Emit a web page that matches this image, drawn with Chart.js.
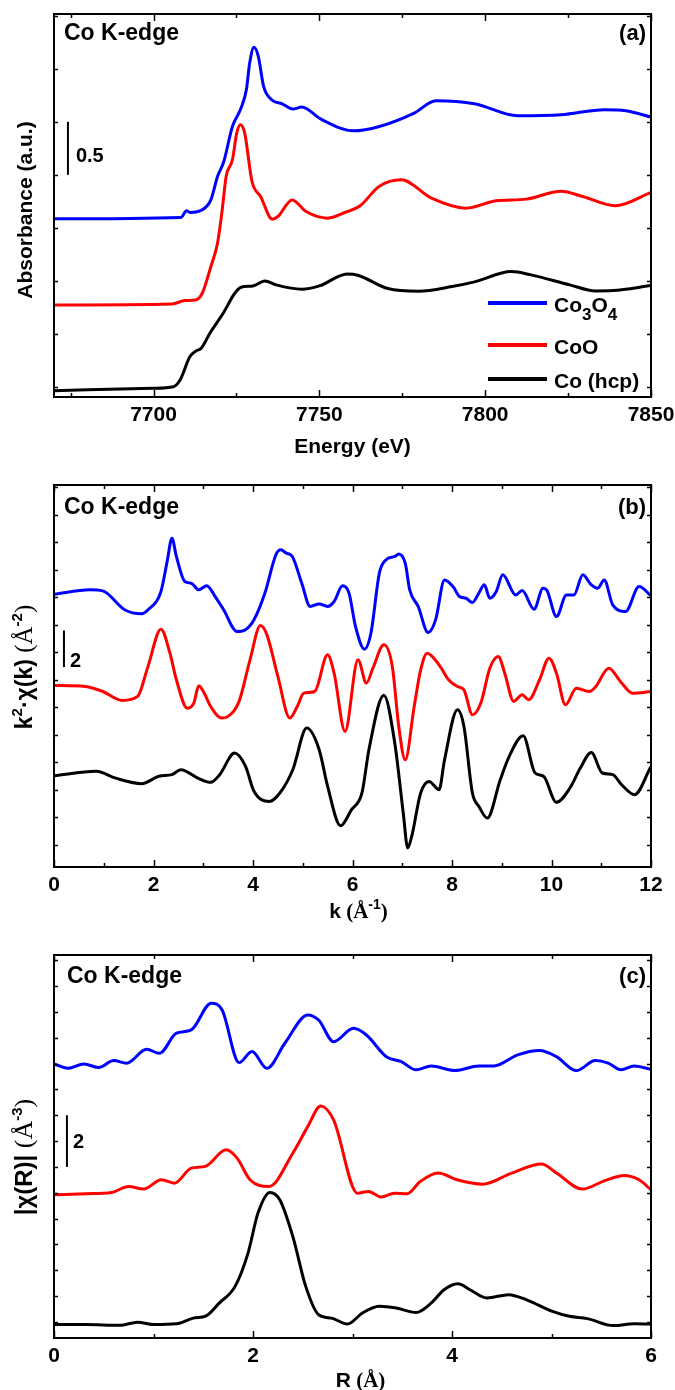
<!DOCTYPE html>
<html><head><meta charset="utf-8">
<script src="https://cdn.jsdelivr.net/npm/chart.js@4.4.1/dist/chart.umd.min.js"></script>
<style>
html,body{margin:0;padding:0;background:#fff;width:675px;height:1390px;overflow:hidden}
canvas{position:absolute;left:0}
</style></head><body>
<canvas id="ca" width="675" height="470" style="top:0px"></canvas>
<canvas id="cb" width="675" height="460" style="top:470px"></canvas>
<canvas id="cc" width="675" height="460" style="top:930px"></canvas>
<script>
// ---------- Panel (a): XANES, Energy (eV) vs Absorbance (offset) ----------
const energyBlue = [7670,7708.2,7710,7711,7714.7,7717.3,7719.3,7721.2,7723.8,7726.4,7728,7729,7730.3,7731.6,7733.2,7735.6,7738.8,7742,7744.7,7750.5,7760.3,7768.1,7778.6,7785.1,7796.8,7809.8,7822.9,7835.9,7842.4,7850];
const absBlue = [1.679,1.692,1.755,1.739,1.764,1.858,2.079,2.220,2.550,2.723,2.896,3.148,3.296,3.211,2.928,2.802,2.764,2.714,2.733,2.619,2.509,2.550,2.676,2.792,2.764,2.651,2.660,2.708,2.698,2.638];
const energyRed = [7670,7705.6,7709.5,7712.7,7714.7,7717.3,7719.3,7720.6,7721.9,7723.8,7725.1,7726.2,7727.5,7729.7,7732.3,7735.8,7737.5,7741.8,7746,7752.5,7757.7,7762.3,7768,7774.7,7783.8,7794.2,7803.3,7812.4,7822.9,7829.4,7839.2,7850];
const absRed = [0.868,0.877,0.909,0.915,0.978,1.230,1.450,1.733,2.079,2.236,2.487,2.566,2.487,2.031,1.890,1.676,1.701,1.858,1.748,1.686,1.739,1.802,1.984,2.047,1.874,1.780,1.849,1.865,1.940,1.890,1.802,1.928];
const energyBlack = [7670,7700,7706,7708,7711,7713,7714.4,7717,7721,7724.5,7726.4,7730,7733.6,7737,7744.7,7750,7758.4,7761.6,7770.7,7779.9,7790,7796.8,7807.9,7813.8,7825.5,7833.3,7838.5,7850];
const absBlack = [0.060,0.082,0.097,0.160,0.381,0.437,0.459,0.601,0.789,0.978,1.035,1.047,1.094,1.057,1.016,1.047,1.160,1.148,1.022,0.997,1.041,1.085,1.182,1.151,1.057,1.000,1.003,1.050];
const energyTicksMajor = [7700,7750,7800,7850];
const energyTicksMinor = [7675,7725,7775,7825];

// ---------- Panel (b): k^2 chi(k) ----------
const kBlue = [0,0.72,0.98,1.42,1.76,1.89,2.15,2.28,2.37,2.46,2.63,2.76,2.91,3.07,3.24,3.41,3.68,3.85,4.02,4.24,4.46,4.56,4.67,4.79,4.98,5.15,5.33,5.50,5.63,5.80,5.93,6.06,6.24,6.37,6.54,6.67,6.85,6.93,7.06,7.15,7.32,7.52,7.67,7.85,8.02,8.15,8.28,8.41,8.54,8.65,8.76,8.89,9.02,9.28,9.41,9.65,9.83,9.91,10.10,10.30,10.45,10.63,10.80,10.93,11.06,11.23,11.49,11.76,12];
const chiBlue = [14.89,15.13,15.07,14.04,13.82,14.04,15.04,16.76,17.95,16.95,15.58,15.49,15.13,15.35,14.76,14.04,12.85,12.95,13.49,14.95,17.04,17.31,17.13,16.95,15.49,14.22,14.36,14.22,14.49,15.35,14.95,13.13,11.89,12.76,16.04,16.76,16.95,17.09,16.58,15.13,14.22,12.80,13.49,15.67,15.31,14.76,14.67,14.44,14.95,15.40,14.67,15.04,15.95,14.85,15.09,14.07,15.22,15.09,13.67,14.85,14.85,15.95,15.40,15.22,15.67,14.31,13.95,15.31,14.80];
const kRed = [0,0.63,0.98,1.37,1.68,1.89,2.15,2.33,2.46,2.68,2.81,2.91,3.02,3.15,3.37,3.50,3.72,3.94,4.15,4.28,4.50,4.74,4.89,5.02,5.24,5.50,5.63,5.85,6.11,6.28,6.41,6.63,6.80,6.93,7.06,7.24,7.37,7.50,7.76,7.93,8.11,8.24,8.41,8.58,8.76,8.93,9.06,9.24,9.41,9.54,9.76,9.95,10.10,10.28,10.50,10.76,10.89,11.15,11.41,11.63,12];
const chiRed = [9.91,9.85,9.58,9.09,9.31,10.95,12.98,11.67,10.22,8.67,8.95,9.89,9.49,8.76,8.13,8.22,9.04,11.31,13.18,12.67,10.40,8.13,8.76,9.49,9.58,11.58,10.58,7.40,11.31,10.04,10.85,12.13,10.95,7.67,5.85,8.76,10.76,11.67,10.95,10.22,9.85,9.67,8.31,8.95,10.85,11.49,10.58,9.04,9.40,9.13,10.22,11.40,10.58,8.85,9.76,9.58,9.85,10.85,10.04,9.49,9.58];
const kBlack = [0,0.85,1.24,1.76,2.11,2.37,2.55,2.89,3.15,3.33,3.63,3.85,4.02,4.33,4.54,4.80,5.08,5.33,5.50,5.76,5.98,6.19,6.33,6.63,6.85,7.02,7.11,7.19,7.37,7.54,7.74,7.85,8.11,8.24,8.41,8.54,8.71,8.97,9.15,9.43,9.67,9.84,10.10,10.37,10.58,10.80,11.02,11.23,11.41,11.67,12];
const chiBlack = [4.98,5.22,4.85,4.55,4.95,5.04,5.31,4.85,4.62,5.04,6.22,5.49,4.13,3.58,4.04,5.31,7.58,6.40,4.40,2.25,3.13,4.04,6.40,9.38,6.76,2.95,1.04,1.67,4.04,4.67,4.22,5.85,8.58,7.67,4.04,3.31,2.67,4.76,6.04,7.16,5.13,4.95,3.53,4.31,5.40,6.25,5.13,5.04,4.49,3.95,5.49];
const kTicksMajor = [0,2,4,6,8,10,12];
const kTicksMinor = [1,3,5,7,9,11];

// ---------- Panel (c): |chi(R)| ----------
const rBlue = [0,0.14,0.30,0.45,0.60,0.73,0.93,1.06,1.23,1.38,1.58,1.69,1.86,1.99,2.14,2.32,2.55,2.66,2.81,3.01,3.14,3.34,3.49,3.64,3.79,4.03,4.27,4.42,4.66,4.88,5.05,5.25,5.44,5.57,5.70,5.83,6];
const ftBlue = [10.62,10.45,10.62,10.48,10.75,10.65,11.19,11.03,11.81,11.94,12.97,12.71,10.67,11.10,10.45,11.42,12.52,12.32,11.48,12.00,11.74,10.90,10.71,10.39,10.54,10.36,10.54,10.54,10.97,11.14,10.90,10.36,10.75,10.65,10.39,10.54,10.41];
const rRed = [0,0.32,0.58,0.75,0.90,1.08,1.21,1.38,1.52,1.73,1.84,1.97,2.16,2.40,2.55,2.68,2.81,3.05,3.16,3.29,3.42,3.55,3.68,3.86,4.05,4.31,4.60,4.90,5.05,5.31,5.53,5.73,5.88,6];
const ftRed = [5.55,5.59,5.64,5.87,5.77,6.13,6.00,6.58,6.65,7.29,6.97,6.13,5.87,7.16,8.19,8.99,8.45,5.61,5.68,5.46,5.61,5.59,6.06,6.39,6.13,5.96,6.39,6.74,6.39,5.77,6.09,6.30,6.13,5.74];
const rBlack = [0,0.32,0.66,0.84,1.01,1.23,1.40,1.53,1.66,1.82,1.95,2.05,2.17,2.27,2.40,2.53,2.66,2.79,2.95,3.10,3.27,3.44,3.64,3.79,3.92,4.06,4.18,4.35,4.57,4.75,5.01,5.18,5.36,5.62,5.83,6];
const ftBlack = [0.52,0.52,0.49,0.61,0.52,0.55,0.77,0.86,1.35,2.00,3.29,4.84,5.64,5.35,3.94,2.00,0.90,0.77,0.54,0.97,1.23,1.16,0.99,1.35,1.87,2.10,1.87,1.55,1.68,1.48,1.03,0.84,0.75,0.48,0.55,0.54];
const rTicksMajor = [0,2,4,6];
const rTicksMinor = [1,3,5];

const seriesLabels = ['Co3O4','CoO','Co (hcp)'];
const seriesColors = ['#0000ff','#ff0000','#000000'];

// ---------- helpers ----------
const SANS = '"Liberation Sans", Arial, Helvetica, sans-serif';
const SERIF = '"Liberation Serif", "Times New Roman", serif';
const B = s => 'bold ' + s + 'px ' + SANS;
const SB = s => 'bold ' + s + 'px ' + SERIF;
const SR = s => s + 'px ' + SERIF;

function pairs(xs, ys) { return xs.map((x, i) => ({x: x, y: ys[i]})); }
function steps(start, step, end) { const o = []; for (let v = start; v <= end + 1e-9; v += step) o.push(+v.toFixed(4)); return o; }

function rich(ctx, segs, x, y, align) {
  let w = 0;
  segs.forEach(s => { ctx.font = s.f; w += ctx.measureText(s.t).width; });
  let cx = align === 'center' ? x - w / 2 : align === 'right' ? x - w : x;
  segs.forEach(s => { ctx.font = s.f; ctx.fillText(s.t, cx, y + (s.dy || 0)); cx += ctx.measureText(s.t).width; });
}

const framePlugin = {
  id: 'frame',
  afterDatasetsDraw(chart, args, p) {
    const ctx = chart.ctx, a = chart.chartArea, x = chart.scales.x, y = chart.scales.y;
    ctx.save();
    ctx.strokeStyle = '#000'; ctx.fillStyle = '#000';
    ctx.lineWidth = 2;
    ctx.strokeRect(a.left, a.top, a.right - a.left, a.bottom - a.top);
    ctx.lineWidth = 1.5;
    ctx.beginPath();
    const xt = (v, len) => { const px = Math.round(x.getPixelForValue(v)) + 0.5;
      ctx.moveTo(px, a.bottom); ctx.lineTo(px, a.bottom - len); ctx.moveTo(px, a.top); ctx.lineTo(px, a.top + len); };
    p.xMajor.forEach(v => xt(v, 7));
    p.xMinor.forEach(v => xt(v, 4));
    p.yTicks.forEach(v => { if (v <= p.yMin || v >= p.yMax) return; const py = Math.round(y.getPixelForValue(v)) + 0.5;
      ctx.moveTo(a.left, py); ctx.lineTo(a.left + 4, py); ctx.moveTo(a.right, py); ctx.lineTo(a.right - 4, py); });
    ctx.stroke();
    // scale bar
    const sb = p.scaleBar;
    const bx = x.getPixelForValue(sb.x), by0 = y.getPixelForValue(sb.y), by1 = y.getPixelForValue(sb.y + sb.len);
    ctx.lineWidth = 2;
    ctx.beginPath(); ctx.moveTo(bx, by0); ctx.lineTo(bx, by1); ctx.stroke();
    ctx.textAlign = 'left'; ctx.textBaseline = 'alphabetic';
    ctx.font = B(20);
    ctx.fillText(sb.label, bx + sb.dx, by0 - sb.dy);
    // panel titles
    ctx.font = B(23);
    ctx.fillText('Co K-edge', a.left + p.titleDx, a.top + p.titleDy);
    ctx.textAlign = 'right';
    ctx.font = B(22);
    ctx.fillText(p.tag, a.right - 5, a.top + p.titleDy);
    ctx.textAlign = 'left';
    // x title
    rich(ctx, p.xTitle, (a.left + a.right) / 2 + p.xTitleDx, p.xTitleY, 'center');
    // y title
    ctx.save();
    ctx.translate(32, p.yTitleY);
    ctx.rotate(-Math.PI / 2);
    rich(ctx, p.yTitle, 0, 0, 'center');
    ctx.restore();
    // legend
    if (p.legend) {
      const L = p.legend;
      chart.data.datasets.forEach((d, i) => {
        const ly = L.rows[i];
        ctx.strokeStyle = d.borderColor; ctx.lineWidth = 4;
        ctx.beginPath(); ctx.moveTo(L.x0, ly); ctx.lineTo(L.x1, ly); ctx.stroke();
        ctx.fillStyle = '#000';
        rich(ctx, L.text[i], L.tx, ly + 9, 'left');
      });
    }
    ctx.restore();
  }
};

function makePanel(id, p) {
  const canvas = document.getElementById(id);
  const H = canvas.height;
  return new Chart(canvas, {
    type: 'line',
    data: { datasets: p.datasets.map((d, i) => ({
      label: seriesLabels[i], data: pairs(d[0], d[1]), borderColor: seriesColors[i], backgroundColor: seriesColors[i],
      borderWidth: 3, pointRadius: 0, fill: false, cubicInterpolationMode: 'monotone'
    })) },
    options: {
      responsive: false, animation: false, devicePixelRatio: 1,
      layout: { padding: { top: p.top, right: 24, left: 0, bottom: 0 } },
      plugins: { legend: { display: false }, tooltip: { enabled: false }, frame: p },
      scales: {
        x: { type: 'linear', min: p.xMin, max: p.xMax,
          grid: { display: false, drawTicks: false }, border: { display: false },
          afterBuildTicks: s => { s.ticks = p.xMajor.map(v => ({ value: v })); },
          afterFit: s => { s.height = H - p.bottom; s.paddingLeft = 0; s.paddingRight = 0; },
          ticks: { font: { family: SANS, size: 21, weight: 'bold' }, color: '#000', padding: 6,
            maxRotation: 0, autoSkip: false, callback: v => String(v) } },
        y: { type: 'linear', min: p.yMin, max: p.yMax,
          grid: { display: false, drawTicks: false }, border: { display: false },
          ticks: { display: false },
          afterFit: s => { s.width = 54; s.paddingTop = 0; s.paddingBottom = 0; } }
      }
    },
    plugins: [framePlugin]
  });
}

makePanel('ca', {
  datasets: [[energyBlue, absBlue], [energyRed, absRed], [energyBlack, absBlack]],
  top: 14, bottom: 397, xMin: 7670, xMax: 7850, yMin: 0, yMax: 3.61,
  xMajor: energyTicksMajor, xMinor: energyTicksMinor, yTicks: steps(0.094, 0.5, 3.6),
  scaleBar: { x: 7674.2, y: 2.094, len: 0.5, label: '0.5', dx: 8, dy: 13 },
  tag: '(a)', titleDx: 10, titleDy: 26,
  xTitle: [{ t: 'Energy (eV)', f: B(21) }], xTitleDx: 0, xTitleY: 453,
  yTitle: [{ t: 'Absorbance (a.u.)', f: B(21) }], yTitleY: 210,
  legend: { x0: 488, x1: 547, tx: 554, rows: [303, 345, 379], text: [
    [{ t: 'Co', f: B(21) }, { t: '3', f: B(17), dy: 8 }, { t: 'O', f: B(21) }, { t: '4', f: B(17), dy: 8 }],
    [{ t: 'CoO', f: B(21) }],
    [{ t: 'Co (hcp)', f: B(21) }]
  ] }
});

makePanel('cb', {
  datasets: [[kBlue, chiBlue], [kRed, chiRed], [kBlack, chiBlack]],
  top: 15, bottom: 397, xMin: 0, xMax: 12, yMin: 0, yMax: 20.85,
  xMajor: kTicksMajor, xMinor: kTicksMinor, yTicks: steps(1.22, 1.5, 20.8),
  scaleBar: { x: 0.2, y: 10.91, len: 2, label: '2', dx: 6, dy: 0 },
  tag: '(b)', titleDx: 10, titleDy: 29,
  xTitle: [{ t: 'k', f: B(21) }, { t: ' (Å', f: SB(21) }, { t: '-1', f: B(14), dy: -9 }, { t: ')', f: SB(21) }], xTitleDx: 6, xTitleY: 448,
  yTitle: [{ t: 'k', f: B(23) }, { t: '2', f: B(15), dy: -10 }, { t: '·', f: B(23) }, { t: 'χ(k)', f: B(23) },
           { t: ' (Å', f: SR(25) }, { t: '-2', f: B(15), dy: -10 }, { t: ')', f: SR(25) }], yTitleY: 197,
  legend: null
});

makePanel('cc', {
  datasets: [[rBlue, ftBlue], [rRed, ftRed], [rBlack, ftBlack]],
  top: 25, bottom: 408, xMin: 0, xMax: 6, yMin: 0, yMax: 14.84,
  xMajor: rTicksMajor, xMinor: rTicksMinor, yTicks: steps(0.63, 1, 14.8),
  scaleBar: { x: 0.13, y: 6.63, len: 2, label: '2', dx: 6, dy: 19 },
  tag: '(c)', titleDx: 13, titleDy: 28,
  xTitle: [{ t: 'R', f: B(21) }, { t: ' (Å)', f: SB(21) }], xTitleDx: 8, xTitleY: 457,
  yTitle: [{ t: '|χ(R)|', f: B(24) }, { t: ' (Å', f: SR(26) }, { t: '-3', f: B(15), dy: -10 }, { t: ')', f: SR(26) }], yTitleY: 227,
  legend: null
});
</script>
</body></html>
